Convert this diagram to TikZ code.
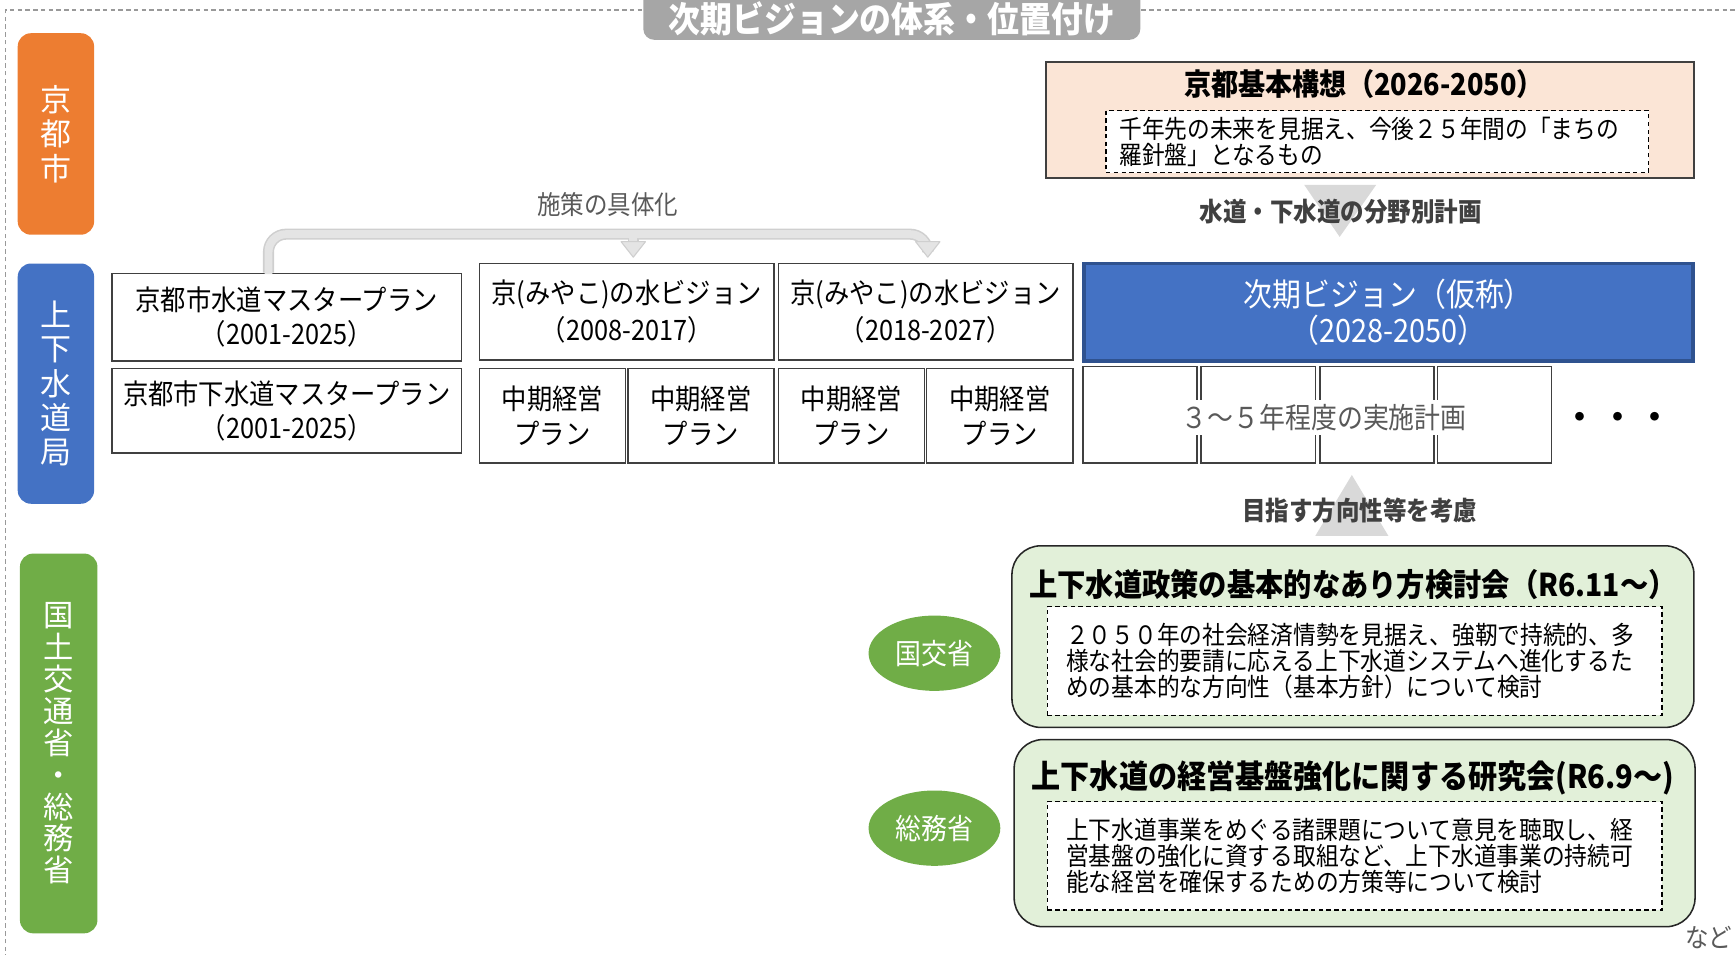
\documentclass[tikz,border=0pt]{standalone}
\usepackage{fontspec}
\newfontfamily\jp[FakeStretch=0.9]{Noto Sans CJK JP}
\newfontfamily\jpn{Noto Sans CJK JP}
\usetikzlibrary{shapes.geometric}
\definecolor{orng}{HTML}{ED7D31}
\definecolor{blu}{HTML}{4472C4}
\definecolor{grn}{HTML}{70AD47}
\definecolor{navy}{HTML}{2F528F}
\definecolor{peach}{HTML}{FBE5D6}
\definecolor{pgreen}{HTML}{E2F0D9}
\definecolor{txtgray}{HTML}{595959}
\definecolor{dk}{HTML}{404040}
\definecolor{tabgray}{HTML}{A6A6A6}
\definecolor{arrgray}{HTML}{E4E4E4}
\definecolor{arredge}{HTML}{CFCFCF}
\definecolor{trigray}{HTML}{D9D9D9}
\begin{document}
\begin{tikzpicture}[x=0.5pt,y=-0.5pt,
  band/.style={rounded corners=6pt, inner sep=0pt, align=center, text=white,
    font=\jpn\fontsize{14}{15.5}\selectfont},
  plan/.style={draw=dk, line width=0.7pt, fill=white, inner sep=0pt, align=center,
    font=\jp\fontsize{12.7}{15.5}\selectfont},
  subbox/.style={draw=dk, line width=0.7pt, fill=white, inner sep=0pt},
  dbox/.style={draw=black, dashed, dash pattern=on 2pt off 1.5pt, line width=0.6pt, fill=white,
    inner xsep=8.5pt, inner ysep=0pt, align=left, font=\jp\fontsize{11.4}{11.8}\selectfont},
  gbox/.style={draw=black!85, line width=0.7pt, fill=pgreen, rounded corners=13pt, inner sep=0pt},
  gtitle/.style={font=\jp\bfseries\fontsize{14.2}{16}\selectfont, inner sep=0pt},
  lbl/.style={font=\jp\fontsize{11.8}{13}\selectfont, text=txtgray, inner sep=1pt},
  lblb/.style={font=\jp\bfseries\fontsize{11.8}{13}\selectfont, text=dk, inner sep=1pt},
  oval/.style={ellipse, fill=grn, inner sep=0pt, minimum width=59.5pt, minimum height=34pt,
    text=white, font=\jp\fontsize{13}{15}\selectfont}
]
\useasboundingbox (0,0) rectangle (1568,862);
\clip (0,0) rectangle (1568,862);

% dashed frame
\draw[black!40, dashed, dash pattern=on 2pt off 1.5pt, line width=0.5pt] (5,880) -- (5,9) -- (1590,9);
% title tab
\fill[tabgray, rounded corners=5pt] (581,-20) rectangle (1030,36);
\node[font=\jp\bfseries\fontsize{16}{18}\selectfont, text=white, inner sep=0pt] (title) at (805.5,17) {次期ビジョンの体系・位置付け};

% left bands
\node[band, fill=orng, minimum width=34.5pt, minimum height=91pt] (bk) at (50.5,121) {京\\都\\市};
\node[band, fill=blu, minimum width=34.5pt, minimum height=108.5pt] (bs) at (50.5,346.5) {上\\下\\水\\道\\局};
\node[band, fill=grn, minimum width=35pt, minimum height=171.5pt, font=\jpn\fontsize{13.7}{14.4}\selectfont] (bg) at (53,671.5) {国\\土\\交\\通\\省\\・\\総\\務\\省};

% Kyoto basic plan
\node[draw=dk, line width=0.7pt, fill=peach, minimum width=292.5pt, minimum height=52.5pt, inner sep=0pt] (kb) at (1237.5,108.5) {};
\node[font=\jp\bfseries\fontsize{13.6}{15}\selectfont, inner sep=0pt] (kbt) at (1232,76) {京都基本構想（2026-2050）};
\node[dbox, minimum width=245pt, minimum height=28pt, text width=233pt, inner xsep=6pt, font=\jp\fontsize{11.4}{12}\selectfont] (kbd) at (1244,128) {千年先の未来を見据え、今後２５年間の「まちの\\羅針盤」となるもの};

% triangles
\fill[trigray] (1178,167) -- (1243,167) -- (1210,214) -- cycle;
\node[lblb] (l1) at (1211,191) {水道・下水道の分野別計画};
\fill[trigray] (1188,484) -- (1254,484) -- (1221,429) -- cycle;
\node[lblb] (l2) at (1228,461) {目指す方向性等を考慮};
\node[lbl] (l0) at (549,185) {施策の具体化};

% plan boxes
\node[plan, minimum width=158pt, minimum height=39.5pt] (m1) at (259,286.5) {京都市水道マスタープラン\\（2001-2025）};
\node[plan, minimum width=158pt, minimum height=38pt] (m2) at (259,371) {京都市下水道マスタープラン\\（2001-2025）};
\node[plan, minimum width=133pt, minimum height=43.5pt, font=\jp\fontsize{12.7}{16.5}\selectfont] (v1) at (566,281.5) {京(みやこ)の水ビジョン\\（2008-2017）};
\node[plan, minimum width=133pt, minimum height=43.5pt, font=\jp\fontsize{12.7}{16.5}\selectfont] (v2) at (836,281.5) {京(みやこ)の水ビジョン\\（2018-2027）};
\foreach \cx/\nm in {499/c1,633/c2,769/c3,903/c4}{
  \node[plan, minimum width=66pt, minimum height=42.5pt, font=\jp\fontsize{12.7}{16}\selectfont] (\nm) at (\cx,375.5) {中期経営\\プラン};
}
\node[draw=navy, line width=1.5pt, fill=blu, minimum width=275pt, minimum height=44pt, inner sep=0pt, align=center, text=white, font=\jp\fontsize{14.5}{16.5}\selectfont] (nv) at (1254,282) {次期ビジョン（仮称）\\（2028-2050）};
\foreach \cx/\nm in {1029.5/s1,1136.5/s2,1243.5/s3,1350/s4}{
  \node[subbox, minimum width=51.5pt, minimum height=43.5pt] (\nm) at (\cx,374.5) {};
}
\node[fill=white, inner xsep=0pt, inner ysep=2pt, font=\jp\fontsize{13}{15}\selectfont, text=txtgray] (ip) at (1196,377) {３～５年程度の実施計画};
\node[font=\jpn\bfseries\fontsize{14}{15}\selectfont, inner sep=0pt] (dots) at (1461,380) {・\hspace{3pt}・\hspace{3pt}・};

% bracket connector
\coordinate (b0) at ([xshift=-8.25pt]m1.north);
\coordinate (b1) at ([xshift=3pt,yshift=2.5pt]v1.north);
\coordinate (b2) at ([xshift=1pt,yshift=2.5pt]v2.north);
\draw[arredge, line width=5pt, rounded corners=8pt] (b0) -- (b0 |- 0,211.5) -- (b2 |- 0,211.5) -- ([yshift=6pt]b2);
\draw[arredge, line width=5pt] (b1 |- 0,211.5) -- ([yshift=6pt]b1);
\draw[arrgray, line width=3.6pt, rounded corners=8pt] ([yshift=-0.6pt]b0) -- (b0 |- 0,211.5) -- (b2 |- 0,211.5) -- ([yshift=6pt]b2);
\draw[arrgray, line width=3.6pt] (b1 |- 0,211.5) -- ([yshift=6pt]b1);
\foreach \b in {b1,b2}{
  \filldraw[fill=arrgray, draw=arredge, line width=0.5pt, line join=round] ([xshift=-5.5pt,yshift=7pt]\b) -- ([xshift=5.5pt,yshift=7pt]\b) -- (\b) -- cycle;
}

% ministry boxes
\node[gbox, minimum width=308pt, minimum height=82pt] (g1) at (1222,575) {};
\node[gtitle] (g1t) at (1222,528) {上下水道政策の基本的なあり方検討会（R6.11～）};
\node[dbox, minimum width=277.5pt, minimum height=49pt, text width=260.5pt] (d1) at (1223.5,597) {２０５０年の社会経済情勢を見据え、強靭で持続的、多\\様な社会的要請に応える上下水道システムへ進化するた\\めの基本的な方向性（基本方針）について検討};
\node[gbox, minimum width=307.5pt, minimum height=84.5pt] (g2) at (1223.5,752.5) {};
\node[gtitle, font=\jp\bfseries\fontsize{14.6}{16}\selectfont] (g2t) at (1222,703) {上下水道の経営基盤強化に関する研究会(R6.9～)};
\node[dbox, minimum width=277.5pt, minimum height=49pt, text width=260.5pt] (d2) at (1223.5,773) {上下水道事業をめぐる諸課題について意見を聴取し、経\\営基盤の強化に資する取組など、上下水道事業の持続可\\能な経営を確保するための方策等について検討};
\node[oval] (e1) at (844,590) {国交省};
\node[oval] (e2) at (844,748) {総務省};
\node[lbl, anchor=east] (nado) at (1567,847) {など};
\end{tikzpicture}
\end{document}
